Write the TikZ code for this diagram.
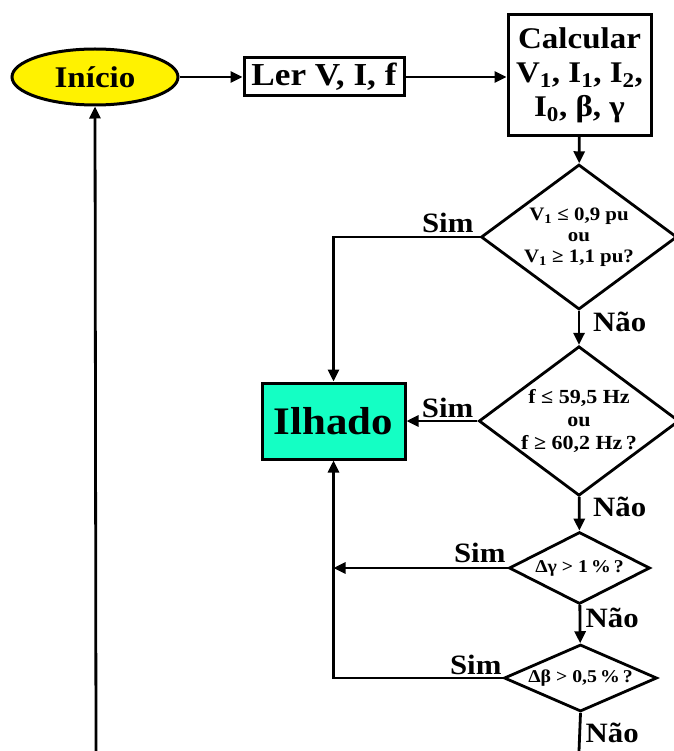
\documentclass[tikz,border=0pt]{standalone}
\usepackage{fontspec}
\setmainfont{Liberation Serif}[FakeStretch=1.1]
\usepackage{tikz}
\usetikzlibrary{shapes.geometric, arrows.meta, positioning, calc}
\definecolor{inicioamarelo}{RGB}{255,242,0}
\definecolor{ilhadoverde}{RGB}{20,255,196}

\begin{document}
\begin{tikzpicture}[x=1pt, y=1pt,
    every node/.style={font=\bfseries},
    caixa/.style={draw, line width=3pt, inner sep=0pt, align=center},
    decisao/.style={draw, diamond, line width=2.8pt, inner sep=0pt, align=center, font=\bfseries\fontsize{19}{21}\selectfont},
    rotulo/.style={inner sep=0pt, font=\bfseries\fontsize{28}{30}\selectfont},
    seta/.style={line width=2.8pt, -{Triangle[length=12pt,width=11pt]}},
    linha/.style={line width=2.8pt}
]
    \useasboundingbox (0,0) rectangle (673,-751);

    % blocos
    \node[caixa, ellipse, fill=inicioamarelo, minimum width=166, minimum height=56, font=\bfseries\fontsize{30}{32}\selectfont] (inicio) at (95,-77) {Início};
    \node[caixa, minimum width=160, minimum height=38, font=\bfseries\fontsize{32}{34}\selectfont] (ler) at (324,-77) {Ler V, I, f};
    \node[caixa, minimum width=143, minimum height=121, font=\bfseries\fontsize{30}{34}\selectfont] (calcular) at (579.5,-75) {Calcular\\V\textsubscript{1}, I\textsubscript{1}, I\textsubscript{2},\\I\textsubscript{0}, β, γ};
    \node[caixa, fill=ilhadoverde, minimum width=143, minimum height=76, font=\bfseries\fontsize{39}{41}\selectfont] (ilhado) at (333.5,-421) {Ilhado};

    % testes
    \node[decisao, aspect=1.35, minimum width=196, minimum height=145] (d1) at (579,-237) {V\textsubscript{1} ≤ 0,9 pu\\ou\\V\textsubscript{1} ≥ 1,1 pu?};
    \node[decisao, aspect=1.34, minimum width=196, minimum height=146, font=\bfseries\fontsize{20}{23}\selectfont] (d2) at (579,-421) {f ≤ 59,5 Hz\\ou\\f ≥ 60,2 Hz\,?};
    \node[decisao, aspect=1.96, minimum width=141, minimum height=72, font=\bfseries\fontsize{18}{20}\selectfont] (d3) at (579.5,-568) {Δγ > 1\,\%\,?};
    \node[decisao, aspect=2.28, minimum width=153, minimum height=67, font=\bfseries\fontsize{18}{20}\selectfont] (d4) at (580.5,-678) {Δβ > 0,5\,\%\,?};

    % rotulos
    \node[rotulo, anchor=base east] (sim1) at ($(d1.west)+(-6,4)$) {Sim};
    \node[rotulo, anchor=base east] (sim2) at ($(d2.west)+(-4,4)$) {Sim};
    \node[rotulo, anchor=base east] (sim3) at ($(d3.west)+(-2,6)$) {Sim};
    \node[rotulo, anchor=base east] (sim4) at ($(d4.west)+(-1,4)$) {Sim};
    \node[rotulo, anchor=base west] (nao1) at ($(d1.south)+(14,-21)$) {Não};
    \node[rotulo, anchor=base west] (nao2) at ($(d2.south)+(14,-19)$) {Não};
    \node[rotulo, anchor=base west] (nao3) at ($(d3.south)+(6,-22)$) {Não};
    \node[rotulo, anchor=base west] (nao4) at ($(d4.south)+(5,-30)$) {Não};

    \coordinate (fim) at (579,-751);
    \coordinate (volta) at (96,-751);

    % ligacoes
    \draw[seta] (inicio) -- (ler);
    \draw[seta] (ler.east) -- (ler.east -| calcular.west);
    \draw[seta] (calcular) -- (d1);
    \draw[seta] (d1.west) -| (ilhado.north);
    \draw[seta] (d1) -- (d2);
    \draw[seta] (d2.west) -- (ilhado.east);
    \draw[seta] (d2) -- (d3);
    \draw[seta] (d3.west) -- (d3.west -| ilhado);
    \draw[seta] (d3) -- (d4);
    \draw[seta] (d4.west) -| (ilhado.south);
    \draw[linha] (d4.south) -- (fim);
    \draw[seta] (volta) -- (inicio.south);
\end{tikzpicture}
\end{document}
